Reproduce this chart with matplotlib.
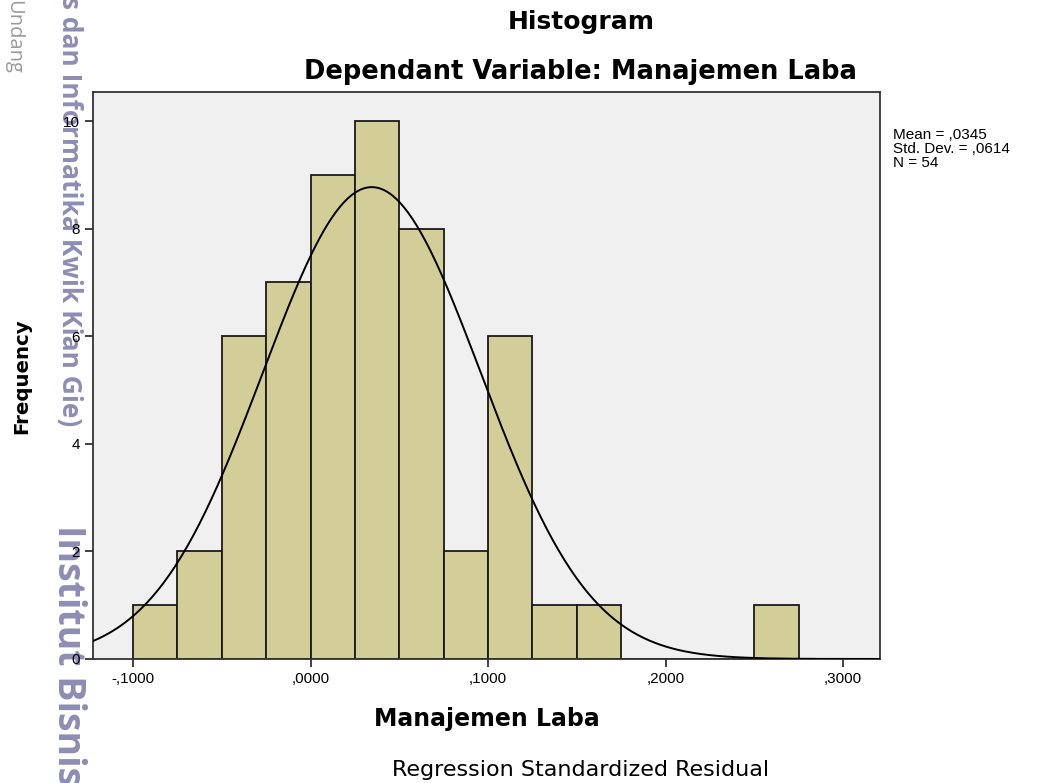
import numpy as np
import matplotlib
matplotlib.use("Agg")
import matplotlib.pyplot as plt

plt.rcParams['font.family'] = ['Liberation Sans', 'DejaVu Sans']

# histogram of regression residuals (bin edges and counts)
bin_edges = [-0.100, -0.075, -0.050, -0.025, 0.000, 0.025, 0.050, 0.075,
             0.100, 0.125, 0.150, 0.175, 0.200, 0.225, 0.250, 0.275]
counts = [1, 2, 6, 7, 9, 10, 8, 2, 6, 1, 1, 0, 0, 0, 1]
mean_val = 0.0345
std_val = 0.0614
n_obs = 54
x_ticks = [-0.1, 0.0, 0.1, 0.2, 0.3]
x_tick_labels = ['-,1000', ',0000', ',1000', ',2000', ',3000']
y_ticks = [0, 2, 4, 6, 8, 10]

fig = plt.figure(figsize=(10.56, 7.83), dpi=100)
ax = fig.add_axes([0.0881, 0.1584, 0.7453, 0.7241])
ax.set_facecolor('#F0F0F0')

widths = np.diff(bin_edges)
ax.bar(bin_edges[:-1], counts, width=widths, align='edge',
       color='#D3CE97', edgecolor='#1a1a1a', linewidth=1.3, zorder=2)

# normal curve scaled to the histogram
xs = np.linspace(-0.1225, 0.3208, 400)
bw = bin_edges[1] - bin_edges[0]
ys = n_obs * bw / (std_val * np.sqrt(2 * np.pi)) * np.exp(-0.5 * ((xs - mean_val) / std_val) ** 2)
ax.plot(xs, ys, color='black', linewidth=1.4, zorder=3)

ax.set_xlim(-0.1225, 0.3208)
ax.set_ylim(0, 10.54)
ax.set_xticks(x_ticks)
ax.set_xticklabels(x_tick_labels, fontsize=11)
ax.set_yticks(y_ticks)
ax.set_yticklabels([str(v) for v in y_ticks], fontsize=11)
ax.tick_params(axis='both', direction='out', length=6, width=1.3, color='#333333')
for s in ax.spines.values():
    s.set_linewidth(1.3)
    s.set_color('#333333')

# titles and labels (wide SPSS-style lettering)
wide = ['DejaVu Sans']
fig.text(0.55, 0.972, 'Histogram', ha='center', va='center', fontsize=18,
         fontweight='bold', family=wide)
fig.text(0.55, 0.908, 'Dependant Variable: Manajemen Laba', ha='center', va='center',
         fontsize=18.5, fontweight='bold', family=wide)
fig.text(0.461, 0.082, 'Manajemen Laba', ha='center', va='center', fontsize=17,
         fontweight='bold', family=wide)
fig.text(0.55, 0.017, 'Regression Standardized Residual', ha='center', va='center',
         fontsize=16, family=wide)
fig.text(0.021, 0.52, 'Frequency', ha='center', va='center', rotation=90,
         fontsize=14.2, fontweight='bold', family=wide)

fig.text(0.846, 0.836, 'Mean = ,0345\nStd. Dev. = ,0614\nN = 54', ha='left', va='top',
         fontsize=11, linespacing=1.0)

# watermark overlay on the left edge (tick labels stay visible on top)
wm = '#8D8DB5'
fig.text(0.012, 1.0, 'Undang', ha='center', va='top', rotation=-90, fontsize=14.5,
         color='#9a9a9a', family=['Open Sans', 'DejaVu Sans'], zorder=-1)
fig.text(0.066, 1.005, 's dan Informatika Kwik Kian Gie)', ha='center', va='top', rotation=-90,
         fontsize=19, fontweight='bold', color=wm, family=['Open Sans', 'DejaVu Sans'], zorder=-1)
fig.text(0.064, 0.33, 'Institut Bisnis', ha='center', va='top', rotation=-90,
         fontsize=27, fontweight='bold', color=wm, family=['Open Sans', 'DejaVu Sans'], zorder=-1)

fig.savefig('out.png', dpi=100, facecolor='white')
